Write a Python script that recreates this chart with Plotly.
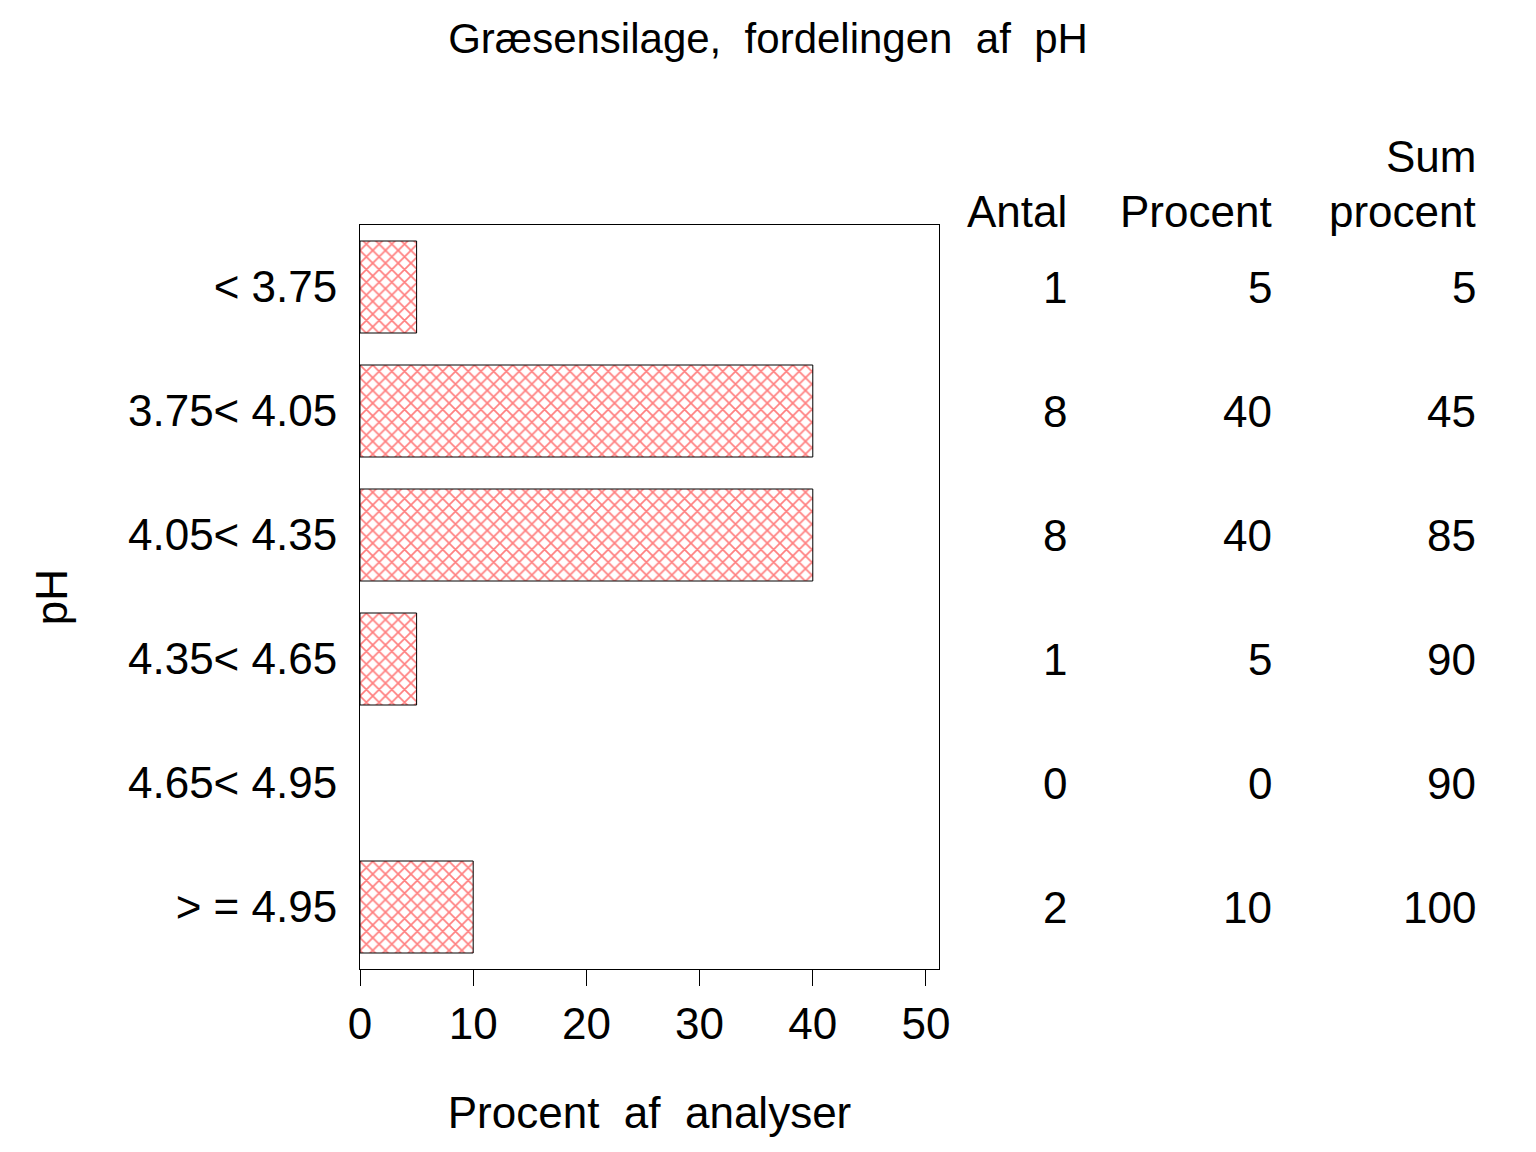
import plotly.graph_objects as go

categories = ["< 3.75", "3.75< 4.05", "4.05< 4.35", "4.35< 4.65", "4.65< 4.95", "> = 4.95"]
antal = [1, 8, 8, 1, 0, 2]
procent = [5, 40, 40, 5, 0, 10]
sum_procent = [5, 45, 85, 90, 90, 100]
x_ticks = [0, 10, 20, 30, 40, 50]

FONT = "Liberation Sans, Arial, sans-serif"
FS = 44

fig = go.Figure()
fig.add_trace(go.Bar(
    y=categories, x=procent, orientation="h",
    width=0.742,
    marker=dict(color="white",
                line=dict(color="black", width=[1 if v > 0 else 0 for v in procent]),
                pattern=dict(shape="x", fgcolor="#ff0000", bgcolor="white", size=9, solidity=0.34)),
    showlegend=False, hoverinfo="skip",
))

ann = []
col_x = [1.2245, 1.5785, 1.9309]
for i, c in enumerate(categories):
    for xp, v in zip(col_x, [antal[i], procent[i], sum_procent[i]]):
        ann.append(dict(x=xp, y=c, xref="paper", yref="y", text=str(v), showarrow=False,
                        xanchor="right", yanchor="middle", font=dict(size=FS, family=FONT, color="black")))
hdr_y = 1.0188
for xp, t, yy in [(col_x[0], "Antal", hdr_y), (col_x[1], "Procent", hdr_y),
                  (col_x[2], "Sum", 1.0927), (col_x[2], "procent", hdr_y)]:
    ann.append(dict(x=xp, y=yy, xref="paper", yref="paper", text=t, showarrow=False,
                    xanchor="right", yanchor="middle", font=dict(size=FS, family=FONT, color="black")))

fig.update_layout(
    width=1536, height=1152,
    margin=dict(l=352, r=605, t=217, b=191),
    paper_bgcolor="white", plot_bgcolor="white",
    font=dict(family=FONT, size=FS, color="black"),
    title=dict(text="Græsensilage,  fordelingen  af  pH", x=(768 - 8) / 1536, xanchor="center",
               y=1 - 30 / 1152, yanchor="middle", font=dict(size=42, family=FONT, color="black")),
    annotations=ann,
)
fig.update_xaxes(range=[0, 51.15], tickvals=x_ticks, ticktext=[str(t) for t in x_ticks],
                 ticks="outside", ticklen=16, tickwidth=1, tickcolor="black",
                 showline=True, linecolor="black", linewidth=1, mirror=True,
                 showgrid=False, zeroline=False,
                 title=dict(text="Procent  af  analyser", standoff=50, font=dict(size=FS)),
                 tickfont=dict(size=FS))
fig.update_yaxes(categoryorder="array", categoryarray=categories, autorange="reversed",
                 range=[5.5, -0.5],
                 showline=True, linecolor="black", linewidth=1, mirror=True,
                 showgrid=False, zeroline=False, ticks="", ticklabelstandoff=13,
                 title=dict(text="pH", standoff=46, font=dict(size=FS)),
                 tickfont=dict(size=FS))

fig.write_html("out.html")
